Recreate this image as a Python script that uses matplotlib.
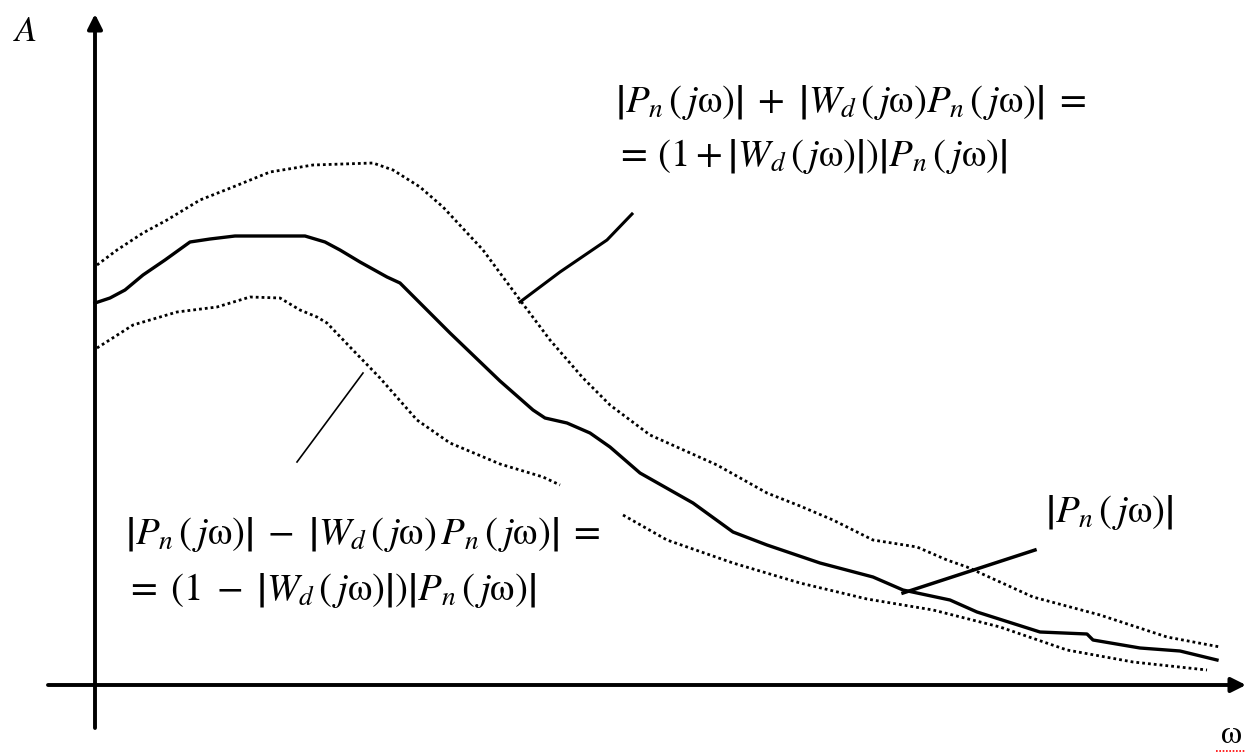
import numpy as np
import matplotlib
matplotlib.use("Agg")
import matplotlib.pyplot as plt

plt.rcParams['mathtext.fontset'] = 'stix'
plt.rcParams['font.family'] = ['STIXGeneral', 'Liberation Serif', 'DejaVu Serif']

# |Pn(jw)| - solid curve
w_main = [0, 15, 30, 48, 70, 95, 115, 140, 210, 230, 245, 265, 292, 305, 322, 355, 405, 438,
          450, 472, 495, 515, 545, 598, 638, 672, 725, 778, 808, 855, 882, 945, 992, 998,
          1045, 1085, 1122]
a_main = [382, 387, 395, 410, 425, 443, 446, 449, 449, 443, 435, 423, 408, 402, 385, 352, 304, 275,
          267, 262, 252, 238, 212, 182, 153, 140, 122, 108, 95, 85, 73, 53, 51, 45,
          37, 34, 25]

# upper bound (1+|Wd|)|Pn| - dotted
w_up = [2, 22, 48, 72, 105, 138, 175, 218, 278, 298, 325, 348, 388, 425, 455, 488, 515, 555,
        622, 672, 705, 738, 778, 822, 852, 872, 938, 1005, 1072, 1125]
a_up = [420, 435, 452, 465, 485, 498, 513, 520, 522, 515, 498, 478, 435, 385, 345, 307, 280, 250,
        220, 192, 179, 165, 145, 138, 125, 118, 88, 70, 48, 38]

# lower bound (1-|Wd|)|Pn| - dotted, broken near the label
w_low = [2, 38, 82, 122, 155, 185, 205, 222, 232, 255, 285, 322, 355, 405, 448, 465, np.nan,
         528, 572, 638, 705, 772, 838, 905, 972, 1038, 1112]
a_low = [337, 360, 373, 378, 388, 387, 375, 368, 362, 338, 307, 265, 242, 221, 208, 200, np.nan,
         170, 145, 122, 102, 86, 75, 58, 35, 23, 15]

# leader lines to the labels
lead_up_w = [425, 465, 512, 537]
lead_up_a = [383, 413, 445, 471]
lead_low_w = [268, 202]
lead_low_a = [312, 223]
lead_p_w = [808, 940]
lead_p_a = [92, 135]

fig = plt.figure(figsize=(12.46, 7.55), dpi=100)
ax = fig.add_axes([0, 0, 1, 1])
ax.set_xlim(-95, 1151)
ax.set_ylim(-70, 685)
ax.axis('off')

# axes with arrows
ax.annotate('', xy=(1151, 0), xytext=(-47, 0),
            arrowprops=dict(arrowstyle='-|>', lw=2.8, color='black', mutation_scale=22,
                            shrinkA=0, shrinkB=0))
ax.annotate('', xy=(0, 671), xytext=(0, -43),
            arrowprops=dict(arrowstyle='-|>', lw=2.8, color='black', mutation_scale=22,
                            shrinkA=0, shrinkB=0))

ax.plot(w_main, a_main, color='black', lw=2.4, solid_joinstyle='round')
ax.plot(w_up, a_up, color='black', lw=2.0, linestyle=(0, (1.0, 1.1)))
ax.plot(w_low, a_low, color='black', lw=2.0, linestyle=(0, (1.0, 1.1)))

ax.plot(lead_up_w, lead_up_a, color='black', lw=2.2)
ax.plot(lead_low_w, lead_low_a, color='black', lw=1.2)
ax.plot(lead_p_w, lead_p_a, color='black', lw=2.5)

fs = 28
om = r'\mathrm{\omega}'
pn = r'\left|P_n\,(\,j' + om + r')\right|'
wd = r'W_d\,(\,j' + om + r')'
pn_in = r'P_n\,(\,j' + om + r')'

ax.text(520, 582, '$' + pn + r'\;+\;\left|' + wd + pn_in + r'\right|\;=$',
        fontsize=fs, va='center', ha='left')
ax.text(520, 528, r'$=\,\left(1+\left|' + wd + r'\right|\right)' + pn + '$',
        fontsize=fs, va='center', ha='left')
ax.text(30, 150, '$' + pn + r'\;-\;\left|' + wd + r'\,' + pn_in + r'\right|\;=$',
        fontsize=fs, va='center', ha='left')
ax.text(30, 95, r'$=\;\left(1\;-\;\left|' + wd + r'\right|\right)' + pn + '$',
        fontsize=fs, va='center', ha='left')
ax.text(950, 172, '$' + pn + '$', fontsize=fs, va='center', ha='left')

ax.text(-70, 653, r'$A$', fontsize=26, va='center', ha='center')
ax.text(1137, -50, 'ω', fontsize=24, va='center', ha='center')
ax.plot([1121, 1150], [-66, -66], color='red', lw=1.2, linestyle=(0, (1, 1)))

fig.savefig('out.png', dpi=100)
